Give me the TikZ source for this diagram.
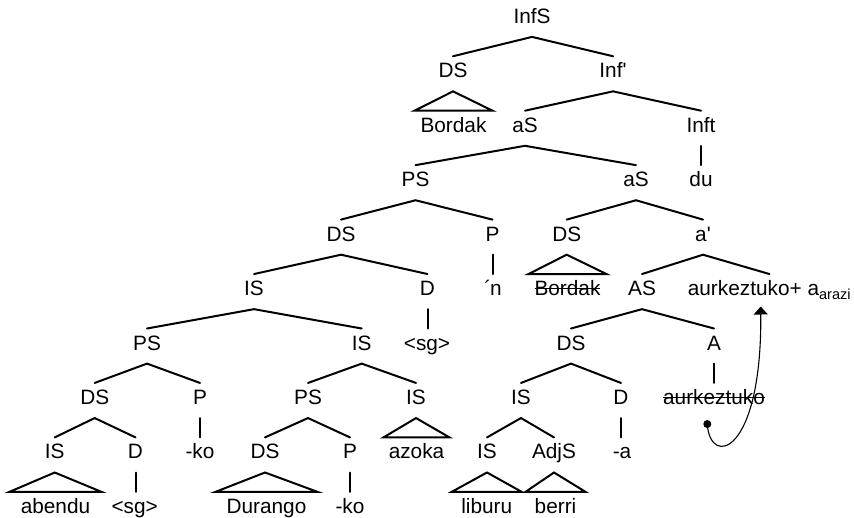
\documentclass[tikz,border=0pt]{standalone}
\usepackage{fontspec}
\setmainfont{Liberation Sans}[Ligatures=TeXOff]
\newcommand\mystrk[1]{\setbox0\hbox{#1}\rlap{\rule[0.31em]{\wd0}{1.3pt}}\box0}
\usetikzlibrary{arrows.meta}
\begin{document}
\begin{tikzpicture}[x=1pt,y=-1pt,
  tn/.style={font=\fontsize{20.8}{25}\selectfont, inner xsep=1pt, inner ysep=3pt,
             text height=18.35pt, text depth=10.35pt, anchor=base},
  br/.style={line width=2pt, line cap=round},
  tri/.style={line width=2pt, line join=miter},
  mv/.style={line width=1.1pt, -{Triangle[width=14pt,length=8pt]}}]
\useasboundingbox (0,0) rectangle (854,517);
% level baselines
\def\La{23.35}\def\Lb{77.8}\def\Lc{132.25}\def\Ld{186.7}\def\Le{241.15}
\def\Lf{295.6}\def\Lg{350.05}\def\Lh{404.5}\def\Li{458.95}\def\Lj{513.4}
% level 0
\node[tn] (infs) at (532,\La) {InfS};
% level 1
\node[tn] (ds1) at (453,\Lb) {DS};
\node[tn] (infbar) at (613,\Lb) {Inf'};
% level 2
\node[tn] (bordak1) at (453.5,\Lc) {Bordak};
\node[tn] (as1) at (525,\Lc) {aS};
\node[tn] (inft) at (701,\Lc) {Inft};
% level 3
\node[tn] (ps1) at (415.5,\Ld) {PS};
\node[tn] (as2) at (636,\Ld) {aS};
\node[tn] (du) at (701,\Ld) {du};
% level 4
\node[tn] (ds2) at (341,\Le) {DS};
\node[tn] (p1) at (492.5,\Le) {P};
\node[tn] (ds3) at (566.7,\Le) {DS};
\node[tn] (abar) at (703,\Le) {a'};
% level 5
\node[tn] (is1) at (254,\Lf) {IS};
\node[tn] (d1) at (427.5,\Lf) {D};
\node[tn] (n1) at (493,\Lf) {´\kern-1pt n};
\node[tn] (bordak2) at (567.5,\Lf) {\mystrk{Bordak}};
\node[tn] (as3) at (642,\Lf) {AS};
\node[tn] (aurk) at (769.5,\Lf) {aurkeztuko+ a\textsubscript{arazi}};
% level 6
\node[tn] (ps2) at (147,\Lg) {PS};
\node[tn] (is2) at (361.7,\Lg) {IS};
\node[tn] (sg1) at (427,\Lg) {<sg>};
\node[tn] (ds4) at (571,\Lg) {DS};
\node[tn] (a1) at (714,\Lg) {A};
% level 7
\node[tn] (ds5) at (94.7,\Lh) {DS};
\node[tn] (p2) at (200,\Lh) {P};
\node[tn] (ps3) at (308,\Lh) {PS};
\node[tn] (is3) at (416,\Lh) {IS};
\node[tn] (is4) at (521,\Lh) {IS};
\node[tn] (d2) at (621,\Lh) {D};
\node[tn] (aurk2) at (714,\Lh) {\mystrk{aurkeztuko}};
% level 8
\node[tn] (is5) at (54.7,\Li) {IS};
\node[tn] (d3) at (135.5,\Li) {D};
\node[tn] (ko1) at (200,\Li) {-ko};
\node[tn] (ds6) at (265,\Li) {DS};
\node[tn] (p3) at (350,\Li) {P};
\node[tn] (azoka) at (416.5,\Li) {azoka};
\node[tn] (is6) at (487,\Li) {IS};
\node[tn] (adjs) at (554,\Li) {AdjS};
\node[tn] (a2) at (622,\Li) {-a};
% level 9
\node[tn] (abendu) at (55.5,\Lj) {abendu};
\node[tn] (sg2) at (134.7,\Lj) {<sg>};
\node[tn] (durango) at (266.5,\Lj) {Durango};
\node[tn] (ko2) at (350,\Lj) {-ko};
\node[tn] (liburu) at (486.7,\Lj) {liburu};
\node[tn] (berri) at (555.5,\Lj) {berri};
% branches
\draw[br] (ds1.north) -- (infs.south) -- (infbar.north);
\draw[br] (as1.north) -- (infbar.south) -- (inft.north);
\draw[br] (inft.south) -- (inft.south |- du.north);
\draw[br] (ps1.north) -- (as1.south) -- (as2.north);
\draw[br] (ds2.north) -- (ps1.south) -- (p1.north);
\draw[br] (p1.south) -- (p1.south |- n1.north);
\draw[br] (ds3.north) -- (as2.south) -- (abar.north);
\draw[br] (as3.north) -- (abar.south) -- (aurk.north);
\draw[br] (is1.north) -- (ds2.south) -- (d1.north);
\draw[br] (d1.south) -- (d1.south |- sg1.north);
\draw[br] (ds4.north) -- (as3.south) -- (a1.north);
\draw[br] (a1.south) -- (a1.south |- aurk2.north);
\draw[br] (ps2.north) -- (is1.south) -- (is2.north);
\draw[br] (ds5.north) -- (ps2.south) -- (p2.north);
\draw[br] (p2.south) -- (p2.south |- ko1.north);
\draw[br] (ps3.north) -- (is2.south) -- (is3.north);
\draw[br] (is4.north) -- (ds4.south) -- (d2.north);
\draw[br] (d2.south) -- (d2.south |- a2.north);
\draw[br] (is5.north) -- (ds5.south) -- (d3.north);
\draw[br] (d3.south) -- (d3.south |- sg2.north);
\draw[br] (ds6.north) -- (ps3.south) -- (p3.north);
\draw[br] (p3.south) -- (p3.south |- ko2.north);
\draw[br] (is6.north) -- (is4.south) -- (adjs.north);
% triangles
\draw[tri] (ds1.south) -- ([xshift=-39pt]bordak1.north) -- ([xshift=39pt]bordak1.north) -- cycle;
\draw[tri] (ds3.south) -- ([xshift=-39pt]bordak2.north) -- ([xshift=39pt]bordak2.north) -- cycle;
\draw[tri] (is3.south) -- ([xshift=-33pt]azoka.north) -- ([xshift=33pt]azoka.north) -- cycle;
\draw[tri] (is5.south) -- ([xshift=-46pt]abendu.north) -- ([xshift=46pt]abendu.north) -- cycle;
\draw[tri] (ds6.south) -- ([xshift=-51pt]durango.north) -- ([xshift=51pt]durango.north) -- cycle;
\draw[tri] (is6.south) -- ([xshift=-35pt]liburu.north) -- ([xshift=35pt]liburu.north) -- cycle;
\draw[tri] (adjs.south) -- ([xshift=-30pt]berri.north) -- ([xshift=30pt]berri.north) -- cycle;
% movement arrow
\coordinate (mvs) at (707.3,424);
\coordinate (mve) at (760.7,306.5);
\fill (mvs) circle[radius=4pt];
\draw[mv] (mvs) .. controls (710,468) and (762,455) .. (mve);
\end{tikzpicture}
\end{document}
